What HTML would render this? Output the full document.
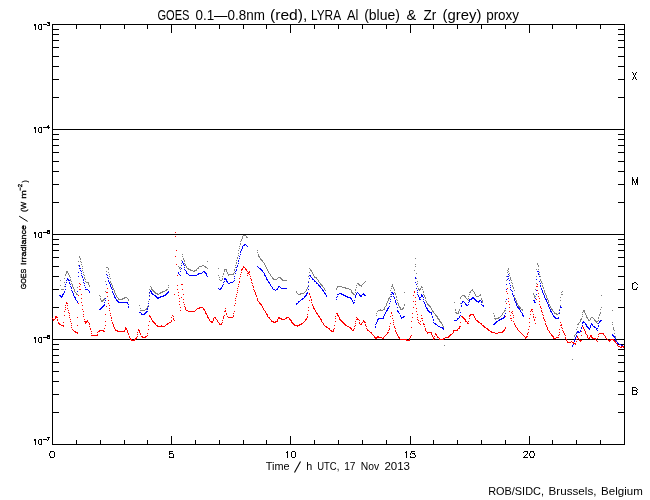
<!DOCTYPE html>
<html><head><meta charset="utf-8"><style>
html,body{margin:0;padding:0;background:#fff;width:650px;height:500px;overflow:hidden}
svg{display:block}
text{font-family:"Liberation Sans",sans-serif;fill:#000}
.t{filter:grayscale(1)}
</style></head><body>
<svg width="650" height="500" viewBox="0 0 650 500">
<rect width="650" height="500" fill="#fff"/>
<g shape-rendering="crispEdges" fill="#000">
<rect x="52" y="24" width="573" height="1"/>
<rect x="52" y="444" width="573" height="1"/>
<rect x="52" y="24" width="1" height="421"/>
<rect x="624" y="24" width="1" height="421"/>
<rect x="52" y="129" width="573" height="1"/>
<rect x="52" y="234" width="573" height="1"/>
<rect x="52" y="339" width="573" height="1"/>
<rect x="53" y="97" width="6" height="1"/>
<rect x="618" y="97" width="6" height="1"/>
<rect x="53" y="79" width="6" height="1"/>
<rect x="618" y="79" width="6" height="1"/>
<rect x="53" y="66" width="6" height="1"/>
<rect x="618" y="66" width="6" height="1"/>
<rect x="53" y="56" width="6" height="1"/>
<rect x="618" y="56" width="6" height="1"/>
<rect x="53" y="47" width="6" height="1"/>
<rect x="618" y="47" width="6" height="1"/>
<rect x="53" y="40" width="6" height="1"/>
<rect x="618" y="40" width="6" height="1"/>
<rect x="53" y="34" width="6" height="1"/>
<rect x="618" y="34" width="6" height="1"/>
<rect x="53" y="29" width="6" height="1"/>
<rect x="618" y="29" width="6" height="1"/>
<rect x="53" y="202" width="6" height="1"/>
<rect x="618" y="202" width="6" height="1"/>
<rect x="53" y="184" width="6" height="1"/>
<rect x="618" y="184" width="6" height="1"/>
<rect x="53" y="171" width="6" height="1"/>
<rect x="618" y="171" width="6" height="1"/>
<rect x="53" y="161" width="6" height="1"/>
<rect x="618" y="161" width="6" height="1"/>
<rect x="53" y="152" width="6" height="1"/>
<rect x="618" y="152" width="6" height="1"/>
<rect x="53" y="145" width="6" height="1"/>
<rect x="618" y="145" width="6" height="1"/>
<rect x="53" y="139" width="6" height="1"/>
<rect x="618" y="139" width="6" height="1"/>
<rect x="53" y="134" width="6" height="1"/>
<rect x="618" y="134" width="6" height="1"/>
<rect x="53" y="307" width="6" height="1"/>
<rect x="618" y="307" width="6" height="1"/>
<rect x="53" y="289" width="6" height="1"/>
<rect x="618" y="289" width="6" height="1"/>
<rect x="53" y="276" width="6" height="1"/>
<rect x="618" y="276" width="6" height="1"/>
<rect x="53" y="266" width="6" height="1"/>
<rect x="618" y="266" width="6" height="1"/>
<rect x="53" y="257" width="6" height="1"/>
<rect x="618" y="257" width="6" height="1"/>
<rect x="53" y="250" width="6" height="1"/>
<rect x="618" y="250" width="6" height="1"/>
<rect x="53" y="244" width="6" height="1"/>
<rect x="618" y="244" width="6" height="1"/>
<rect x="53" y="239" width="6" height="1"/>
<rect x="618" y="239" width="6" height="1"/>
<rect x="53" y="412" width="6" height="1"/>
<rect x="618" y="412" width="6" height="1"/>
<rect x="53" y="394" width="6" height="1"/>
<rect x="618" y="394" width="6" height="1"/>
<rect x="53" y="381" width="6" height="1"/>
<rect x="618" y="381" width="6" height="1"/>
<rect x="53" y="371" width="6" height="1"/>
<rect x="618" y="371" width="6" height="1"/>
<rect x="53" y="362" width="6" height="1"/>
<rect x="618" y="362" width="6" height="1"/>
<rect x="53" y="355" width="6" height="1"/>
<rect x="618" y="355" width="6" height="1"/>
<rect x="53" y="349" width="6" height="1"/>
<rect x="618" y="349" width="6" height="1"/>
<rect x="53" y="344" width="6" height="1"/>
<rect x="618" y="344" width="6" height="1"/>
<rect x="76" y="25" width="1" height="4"/>
<rect x="76" y="440" width="1" height="4"/>
<rect x="100" y="25" width="1" height="4"/>
<rect x="100" y="440" width="1" height="4"/>
<rect x="124" y="25" width="1" height="4"/>
<rect x="124" y="440" width="1" height="4"/>
<rect x="147" y="25" width="1" height="4"/>
<rect x="147" y="440" width="1" height="4"/>
<rect x="171" y="25" width="1" height="8"/>
<rect x="171" y="436" width="1" height="8"/>
<rect x="195" y="25" width="1" height="4"/>
<rect x="195" y="440" width="1" height="4"/>
<rect x="219" y="25" width="1" height="4"/>
<rect x="219" y="440" width="1" height="4"/>
<rect x="243" y="25" width="1" height="4"/>
<rect x="243" y="440" width="1" height="4"/>
<rect x="266" y="25" width="1" height="4"/>
<rect x="266" y="440" width="1" height="4"/>
<rect x="290" y="25" width="1" height="8"/>
<rect x="290" y="436" width="1" height="8"/>
<rect x="314" y="25" width="1" height="4"/>
<rect x="314" y="440" width="1" height="4"/>
<rect x="338" y="25" width="1" height="4"/>
<rect x="338" y="440" width="1" height="4"/>
<rect x="362" y="25" width="1" height="4"/>
<rect x="362" y="440" width="1" height="4"/>
<rect x="386" y="25" width="1" height="4"/>
<rect x="386" y="440" width="1" height="4"/>
<rect x="410" y="25" width="1" height="8"/>
<rect x="410" y="436" width="1" height="8"/>
<rect x="433" y="25" width="1" height="4"/>
<rect x="433" y="440" width="1" height="4"/>
<rect x="457" y="25" width="1" height="4"/>
<rect x="457" y="440" width="1" height="4"/>
<rect x="481" y="25" width="1" height="4"/>
<rect x="481" y="440" width="1" height="4"/>
<rect x="505" y="25" width="1" height="4"/>
<rect x="505" y="440" width="1" height="4"/>
<rect x="529" y="25" width="1" height="8"/>
<rect x="529" y="436" width="1" height="8"/>
<rect x="552" y="25" width="1" height="4"/>
<rect x="552" y="440" width="1" height="4"/>
<rect x="576" y="25" width="1" height="4"/>
<rect x="576" y="440" width="1" height="4"/>
<rect x="600" y="25" width="1" height="4"/>
<rect x="600" y="440" width="1" height="4"/>
<rect x="43" y="24" width="4" height="1"/>
<rect x="47" y="22" width="1" height="1"/>
<rect x="48" y="22" width="1" height="1"/>
<rect x="49" y="22" width="1" height="1"/>
<rect x="48" y="23" width="1" height="1"/>
<rect x="49" y="23" width="1" height="1"/>
<rect x="49" y="24" width="1" height="1"/>
<rect x="47" y="25" width="1" height="1"/>
<rect x="48" y="25" width="1" height="1"/>
<rect x="49" y="25" width="1" height="1"/>
<rect x="43" y="127" width="4" height="1"/>
<rect x="48" y="125" width="1" height="1"/>
<rect x="47" y="126" width="1" height="1"/>
<rect x="48" y="126" width="1" height="1"/>
<rect x="47" y="127" width="1" height="1"/>
<rect x="48" y="127" width="1" height="1"/>
<rect x="49" y="127" width="1" height="1"/>
<rect x="48" y="128" width="1" height="1"/>
<rect x="43" y="232" width="4" height="1"/>
<rect x="47" y="230" width="1" height="1"/>
<rect x="48" y="230" width="1" height="1"/>
<rect x="49" y="230" width="1" height="1"/>
<rect x="47" y="231" width="1" height="1"/>
<rect x="48" y="231" width="1" height="1"/>
<rect x="49" y="231" width="1" height="1"/>
<rect x="47" y="232" width="1" height="1"/>
<rect x="49" y="232" width="1" height="1"/>
<rect x="47" y="233" width="1" height="1"/>
<rect x="48" y="233" width="1" height="1"/>
<rect x="49" y="233" width="1" height="1"/>
<rect x="43" y="337" width="4" height="1"/>
<rect x="47" y="335" width="1" height="1"/>
<rect x="48" y="335" width="1" height="1"/>
<rect x="49" y="335" width="1" height="1"/>
<rect x="47" y="336" width="1" height="1"/>
<rect x="48" y="336" width="1" height="1"/>
<rect x="49" y="336" width="1" height="1"/>
<rect x="47" y="337" width="1" height="1"/>
<rect x="49" y="337" width="1" height="1"/>
<rect x="47" y="338" width="1" height="1"/>
<rect x="48" y="338" width="1" height="1"/>
<rect x="49" y="338" width="1" height="1"/>
<rect x="43" y="439" width="4" height="1"/>
<rect x="47" y="437" width="1" height="1"/>
<rect x="48" y="437" width="1" height="1"/>
<rect x="49" y="437" width="1" height="1"/>
<rect x="48" y="438" width="1" height="1"/>
<rect x="48" y="439" width="1" height="1"/>
<rect x="47" y="440" width="1" height="1"/>
<rect x="34" y="24" width="2" height="1"/>
<rect x="34" y="25" width="2" height="1"/>
<rect x="35" y="26" width="1" height="1"/>
<rect x="35" y="27" width="1" height="1"/>
<rect x="35" y="28" width="1" height="1"/>
<rect x="35" y="29" width="1" height="1"/>
<rect x="39" y="24" width="3" height="1"/>
<rect x="38" y="25" width="1" height="1"/>
<rect x="41" y="25" width="1" height="1"/>
<rect x="38" y="26" width="1" height="1"/>
<rect x="41" y="26" width="1" height="1"/>
<rect x="38" y="27" width="1" height="1"/>
<rect x="41" y="27" width="1" height="1"/>
<rect x="38" y="28" width="1" height="1"/>
<rect x="41" y="28" width="1" height="1"/>
<rect x="39" y="29" width="3" height="1"/>
<rect x="34" y="127" width="2" height="1"/>
<rect x="34" y="128" width="2" height="1"/>
<rect x="35" y="129" width="1" height="1"/>
<rect x="35" y="130" width="1" height="1"/>
<rect x="35" y="131" width="1" height="1"/>
<rect x="35" y="132" width="1" height="1"/>
<rect x="39" y="127" width="3" height="1"/>
<rect x="38" y="128" width="1" height="1"/>
<rect x="41" y="128" width="1" height="1"/>
<rect x="38" y="129" width="1" height="1"/>
<rect x="41" y="129" width="1" height="1"/>
<rect x="38" y="130" width="1" height="1"/>
<rect x="41" y="130" width="1" height="1"/>
<rect x="38" y="131" width="1" height="1"/>
<rect x="41" y="131" width="1" height="1"/>
<rect x="39" y="132" width="3" height="1"/>
<rect x="34" y="232" width="2" height="1"/>
<rect x="34" y="233" width="2" height="1"/>
<rect x="35" y="234" width="1" height="1"/>
<rect x="35" y="235" width="1" height="1"/>
<rect x="35" y="236" width="1" height="1"/>
<rect x="35" y="237" width="1" height="1"/>
<rect x="39" y="232" width="3" height="1"/>
<rect x="38" y="233" width="1" height="1"/>
<rect x="41" y="233" width="1" height="1"/>
<rect x="38" y="234" width="1" height="1"/>
<rect x="41" y="234" width="1" height="1"/>
<rect x="38" y="235" width="1" height="1"/>
<rect x="41" y="235" width="1" height="1"/>
<rect x="38" y="236" width="1" height="1"/>
<rect x="41" y="236" width="1" height="1"/>
<rect x="39" y="237" width="3" height="1"/>
<rect x="34" y="337" width="2" height="1"/>
<rect x="34" y="338" width="2" height="1"/>
<rect x="35" y="339" width="1" height="1"/>
<rect x="35" y="340" width="1" height="1"/>
<rect x="35" y="341" width="1" height="1"/>
<rect x="35" y="342" width="1" height="1"/>
<rect x="39" y="337" width="3" height="1"/>
<rect x="38" y="338" width="1" height="1"/>
<rect x="41" y="338" width="1" height="1"/>
<rect x="38" y="339" width="1" height="1"/>
<rect x="41" y="339" width="1" height="1"/>
<rect x="38" y="340" width="1" height="1"/>
<rect x="41" y="340" width="1" height="1"/>
<rect x="38" y="341" width="1" height="1"/>
<rect x="41" y="341" width="1" height="1"/>
<rect x="39" y="342" width="3" height="1"/>
<rect x="34" y="439" width="2" height="1"/>
<rect x="34" y="440" width="2" height="1"/>
<rect x="35" y="441" width="1" height="1"/>
<rect x="35" y="442" width="1" height="1"/>
<rect x="35" y="443" width="1" height="1"/>
<rect x="35" y="444" width="1" height="1"/>
<rect x="39" y="439" width="3" height="1"/>
<rect x="38" y="440" width="1" height="1"/>
<rect x="41" y="440" width="1" height="1"/>
<rect x="38" y="441" width="1" height="1"/>
<rect x="41" y="441" width="1" height="1"/>
<rect x="38" y="442" width="1" height="1"/>
<rect x="41" y="442" width="1" height="1"/>
<rect x="38" y="443" width="1" height="1"/>
<rect x="41" y="443" width="1" height="1"/>
<rect x="39" y="444" width="3" height="1"/>
<rect x="50" y="451" width="4" height="1"/>
<rect x="50" y="452" width="1" height="1"/>
<rect x="54" y="452" width="1" height="1"/>
<rect x="49" y="453" width="1" height="1"/>
<rect x="54" y="453" width="1" height="1"/>
<rect x="49" y="454" width="1" height="1"/>
<rect x="54" y="454" width="1" height="1"/>
<rect x="49" y="455" width="1" height="1"/>
<rect x="54" y="455" width="1" height="1"/>
<rect x="50" y="456" width="1" height="1"/>
<rect x="54" y="456" width="1" height="1"/>
<rect x="50" y="457" width="4" height="1"/>
<rect x="169" y="451" width="4" height="1"/>
<rect x="169" y="452" width="1" height="1"/>
<rect x="169" y="453" width="4" height="1"/>
<rect x="169" y="454" width="1" height="1"/>
<rect x="173" y="454" width="1" height="1"/>
<rect x="173" y="455" width="1" height="1"/>
<rect x="169" y="456" width="1" height="1"/>
<rect x="173" y="456" width="1" height="1"/>
<rect x="169" y="457" width="5" height="1"/>
<rect x="287" y="451" width="1" height="1"/>
<rect x="286" y="452" width="2" height="1"/>
<rect x="287" y="453" width="1" height="1"/>
<rect x="287" y="454" width="1" height="1"/>
<rect x="287" y="455" width="1" height="1"/>
<rect x="287" y="456" width="1" height="1"/>
<rect x="287" y="457" width="1" height="1"/>
<rect x="292" y="451" width="3" height="1"/>
<rect x="291" y="452" width="1" height="1"/>
<rect x="295" y="452" width="1" height="1"/>
<rect x="291" y="453" width="1" height="1"/>
<rect x="295" y="453" width="1" height="1"/>
<rect x="291" y="454" width="1" height="1"/>
<rect x="295" y="454" width="1" height="1"/>
<rect x="291" y="455" width="1" height="1"/>
<rect x="295" y="455" width="1" height="1"/>
<rect x="291" y="456" width="1" height="1"/>
<rect x="295" y="456" width="1" height="1"/>
<rect x="292" y="457" width="3" height="1"/>
<rect x="406" y="451" width="1" height="1"/>
<rect x="405" y="452" width="2" height="1"/>
<rect x="406" y="453" width="1" height="1"/>
<rect x="406" y="454" width="1" height="1"/>
<rect x="406" y="455" width="1" height="1"/>
<rect x="406" y="456" width="1" height="1"/>
<rect x="406" y="457" width="1" height="1"/>
<rect x="411" y="451" width="4" height="1"/>
<rect x="411" y="452" width="1" height="1"/>
<rect x="410" y="453" width="1" height="1"/>
<rect x="412" y="453" width="3" height="1"/>
<rect x="410" y="454" width="1" height="1"/>
<rect x="414" y="454" width="1" height="1"/>
<rect x="415" y="455" width="1" height="1"/>
<rect x="410" y="456" width="1" height="1"/>
<rect x="415" y="456" width="1" height="1"/>
<rect x="410" y="457" width="5" height="1"/>
<rect x="524" y="451" width="4" height="1"/>
<rect x="523" y="452" width="1" height="1"/>
<rect x="527" y="452" width="1" height="1"/>
<rect x="527" y="453" width="1" height="1"/>
<rect x="526" y="454" width="1" height="1"/>
<rect x="525" y="455" width="1" height="1"/>
<rect x="524" y="456" width="1" height="1"/>
<rect x="523" y="457" width="5" height="1"/>
<rect x="530" y="451" width="4" height="1"/>
<rect x="530" y="452" width="1" height="1"/>
<rect x="533" y="452" width="1" height="1"/>
<rect x="529" y="453" width="1" height="1"/>
<rect x="534" y="453" width="1" height="1"/>
<rect x="529" y="454" width="1" height="1"/>
<rect x="534" y="454" width="1" height="1"/>
<rect x="529" y="455" width="1" height="1"/>
<rect x="534" y="455" width="1" height="1"/>
<rect x="530" y="456" width="1" height="1"/>
<rect x="533" y="456" width="1" height="1"/>
<rect x="530" y="457" width="4" height="1"/>
<rect x="632" y="72" width="1" height="1"/>
<rect x="636" y="72" width="1" height="1"/>
<rect x="633" y="73" width="1" height="1"/>
<rect x="635" y="73" width="1" height="1"/>
<rect x="633" y="74" width="1" height="1"/>
<rect x="635" y="74" width="1" height="1"/>
<rect x="634" y="75" width="1" height="1"/>
<rect x="634" y="76" width="1" height="1"/>
<rect x="633" y="77" width="1" height="1"/>
<rect x="635" y="77" width="1" height="1"/>
<rect x="633" y="78" width="1" height="1"/>
<rect x="635" y="78" width="1" height="1"/>
<rect x="632" y="79" width="1" height="1"/>
<rect x="636" y="79" width="1" height="1"/>
<rect x="632" y="177" width="1" height="1"/>
<rect x="637" y="177" width="1" height="1"/>
<rect x="632" y="178" width="1" height="1"/>
<rect x="637" y="178" width="1" height="1"/>
<rect x="632" y="179" width="2" height="1"/>
<rect x="636" y="179" width="2" height="1"/>
<rect x="632" y="180" width="2" height="1"/>
<rect x="636" y="180" width="2" height="1"/>
<rect x="632" y="181" width="1" height="1"/>
<rect x="634" y="181" width="1" height="1"/>
<rect x="636" y="181" width="2" height="1"/>
<rect x="632" y="182" width="1" height="1"/>
<rect x="634" y="182" width="1" height="1"/>
<rect x="636" y="182" width="2" height="1"/>
<rect x="632" y="183" width="1" height="1"/>
<rect x="635" y="183" width="1" height="1"/>
<rect x="637" y="183" width="1" height="1"/>
<rect x="632" y="184" width="1" height="1"/>
<rect x="635" y="184" width="1" height="1"/>
<rect x="637" y="184" width="1" height="1"/>
<rect x="634" y="282" width="2" height="1"/>
<rect x="632" y="283" width="2" height="1"/>
<rect x="636" y="283" width="1" height="1"/>
<rect x="632" y="284" width="1" height="1"/>
<rect x="637" y="284" width="1" height="1"/>
<rect x="632" y="285" width="1" height="1"/>
<rect x="632" y="286" width="1" height="1"/>
<rect x="632" y="287" width="1" height="1"/>
<rect x="637" y="287" width="1" height="1"/>
<rect x="632" y="288" width="1" height="1"/>
<rect x="636" y="288" width="1" height="1"/>
<rect x="633" y="289" width="4" height="1"/>
<rect x="632" y="387" width="4" height="1"/>
<rect x="632" y="388" width="1" height="1"/>
<rect x="636" y="388" width="1" height="1"/>
<rect x="632" y="389" width="1" height="1"/>
<rect x="637" y="389" width="1" height="1"/>
<rect x="632" y="390" width="5" height="1"/>
<rect x="632" y="391" width="1" height="1"/>
<rect x="636" y="391" width="1" height="1"/>
<rect x="632" y="392" width="1" height="1"/>
<rect x="637" y="392" width="1" height="1"/>
<rect x="632" y="393" width="1" height="1"/>
<rect x="636" y="393" width="1" height="1"/>
<rect x="632" y="394" width="5" height="1"/>
</g>
<g shape-rendering="crispEdges">
<path fill="#808080" d="M243 235h3v1h-3zM242 236h1v1h-1zM246 236h1v1h-1zM242 237h1v1h-1zM246 237h2v1h-2zM242 238h1v1h-1zM241 239h1v1h-1zM241 240h1v1h-1zM240 241h1v1h-1zM240 243h1v1h-1zM240 244h1v1h-1zM239 246h1v1h-1zM239 248h1v1h-1zM238 250h1v1h-1zM257 250h1v1h-1zM257 252h1v1h-1zM238 253h1v1h-1zM182 254h1v1h-1zM258 254h1v1h-1zM238 255h1v1h-1zM258 255h1v1h-1zM79 256h1v1h-1zM182 256h1v1h-1zM258 256h2v1h-2zM79 257h1v1h-1zM237 257h1v1h-1zM259 257h1v1h-1zM80 258h1v1h-1zM183 258h1v1h-1zM237 258h1v1h-1zM260 258h1v1h-1zM415 258h1v1h-1zM80 259h1v1h-1zM183 259h1v1h-1zM260 259h2v1h-2zM181 260h1v1h-1zM184 260h1v1h-1zM236 260h1v1h-1zM261 260h2v1h-2zM78 261h1v1h-1zM80 261h1v1h-1zM184 261h1v1h-1zM207 261h1v1h-1zM262 261h1v1h-1zM81 262h1v1h-1zM236 262h1v1h-1zM263 262h1v1h-1zM181 263h1v1h-1zM184 263h1v1h-1zM236 263h1v1h-1zM264 263h1v1h-1zM537 263h1v1h-1zM81 264h1v1h-1zM185 264h1v1h-1zM264 264h1v1h-1zM415 264h1v1h-1zM537 264h1v1h-1zM78 265h1v1h-1zM185 265h1v1h-1zM202 265h2v1h-2zM235 265h1v1h-1zM265 265h1v1h-1zM538 265h1v1h-1zM82 266h1v1h-1zM178 266h1v1h-1zM186 266h1v1h-1zM199 266h3v1h-3zM204 266h2v1h-2zM265 266h1v1h-1zM415 266h1v1h-1zM538 266h1v1h-1zM106 267h2v1h-2zM179 267h2v1h-2zM186 267h1v1h-1zM198 267h1v1h-1zM205 267h2v1h-2zM235 267h1v1h-1zM266 267h1v1h-1zM82 268h1v1h-1zM108 268h1v1h-1zM179 268h1v1h-1zM187 268h2v1h-2zM197 268h2v1h-2zM207 268h1v1h-1zM218 268h1v1h-1zM266 268h1v1h-1zM309 268h1v1h-1zM508 268h1v1h-1zM108 269h1v1h-1zM180 269h1v1h-1zM188 269h3v1h-3zM196 269h1v1h-1zM224 269h3v1h-3zM234 269h1v1h-1zM267 269h1v1h-1zM310 269h1v1h-1zM508 269h1v1h-1zM536 269h1v1h-1zM538 269h1v1h-1zM82 270h1v1h-1zM190 270h3v1h-3zM194 270h3v1h-3zM224 270h1v1h-1zM226 270h1v1h-1zM234 270h1v1h-1zM267 270h1v1h-1zM310 270h2v1h-2zM414 270h1v1h-1zM507 270h1v1h-1zM66 271h2v1h-2zM106 271h1v1h-1zM193 271h2v1h-2zM224 271h1v1h-1zM226 271h1v1h-1zM268 271h1v1h-1zM311 271h1v1h-1zM508 271h1v1h-1zM66 272h2v1h-2zM78 272h1v1h-1zM83 272h1v1h-1zM108 272h1v1h-1zM227 272h1v1h-1zM234 272h1v1h-1zM268 272h1v1h-1zM309 272h1v1h-1zM312 272h1v1h-1zM507 272h1v1h-1zM539 272h1v1h-1zM66 273h1v1h-1zM68 273h1v1h-1zM223 273h1v1h-1zM227 273h1v1h-1zM233 273h1v1h-1zM269 273h1v1h-1zM312 273h1v1h-1zM416 273h1v1h-1zM509 273h1v1h-1zM65 274h1v1h-1zM68 274h1v1h-1zM83 274h1v1h-1zM109 274h1v1h-1zM223 274h1v1h-1zM228 274h6v1h-6zM270 274h1v1h-1zM313 274h1v1h-1zM539 274h1v1h-1zM65 275h1v1h-1zM69 275h1v1h-1zM84 275h1v1h-1zM218 275h1v1h-1zM228 275h1v1h-1zM270 275h1v1h-1zM313 275h1v1h-1zM509 275h1v1h-1zM69 276h1v1h-1zM109 276h1v1h-1zM222 276h1v1h-1zM271 276h1v1h-1zM308 276h1v1h-1zM314 276h1v1h-1zM506 276h1v1h-1zM536 276h1v1h-1zM540 276h1v1h-1zM70 277h1v1h-1zM84 277h1v1h-1zM219 277h1v1h-1zM272 277h1v1h-1zM278 277h3v1h-3zM314 277h3v1h-3zM510 277h1v1h-1zM64 278h1v1h-1zM84 278h1v1h-1zM110 278h1v1h-1zM222 278h1v1h-1zM272 278h2v1h-2zM277 278h1v1h-1zM280 278h2v1h-2zM316 278h1v1h-1zM416 278h1v1h-1zM510 278h1v1h-1zM70 279h1v1h-1zM85 279h1v1h-1zM219 279h1v1h-1zM222 279h1v1h-1zM273 279h4v1h-4zM281 279h2v1h-2zM317 279h1v1h-1zM510 279h1v1h-1zM540 279h1v1h-1zM60 280h1v1h-1zM70 280h1v1h-1zM220 280h2v1h-2zM282 280h5v1h-5zM318 280h1v1h-1zM506 280h1v1h-1zM511 280h1v1h-1zM540 280h1v1h-1zM71 281h1v1h-1zM85 281h1v1h-1zM105 281h1v1h-1zM110 281h1v1h-1zM308 281h1v1h-1zM318 281h1v1h-1zM365 281h1v1h-1zM417 281h1v1h-1zM541 281h1v1h-1zM64 282h1v1h-1zM86 282h3v1h-3zM110 282h1v1h-1zM319 282h1v1h-1zM364 282h1v1h-1zM511 282h1v1h-1zM541 282h1v1h-1zM71 283h1v1h-1zM88 283h1v1h-1zM111 283h1v1h-1zM320 283h1v1h-1zM357 283h2v1h-2zM363 283h1v1h-1zM417 283h1v1h-1zM512 283h1v1h-1zM536 283h1v1h-1zM542 283h1v1h-1zM72 284h1v1h-1zM88 284h1v1h-1zM111 284h1v1h-1zM320 284h2v1h-2zM358 284h2v1h-2zM362 284h1v1h-1zM392 284h1v1h-1zM506 284h1v1h-1zM60 285h1v1h-1zM72 285h1v1h-1zM89 285h1v1h-1zM112 285h1v1h-1zM168 285h1v1h-1zM308 285h1v1h-1zM321 285h2v1h-2zM356 285h1v1h-1zM359 285h3v1h-3zM392 285h1v1h-1zM512 285h1v1h-1zM542 285h1v1h-1zM64 286h1v1h-1zM72 286h1v1h-1zM89 286h1v1h-1zM112 286h1v1h-1zM150 286h1v1h-1zM322 286h1v1h-1zM337 286h5v1h-5zM361 286h1v1h-1zM391 286h2v1h-2zM417 286h1v1h-1zM421 286h1v1h-1zM512 286h1v1h-1zM542 286h1v1h-1zM73 287h1v1h-1zM77 287h1v1h-1zM112 287h1v1h-1zM151 287h1v1h-1zM168 287h1v1h-1zM307 287h1v1h-1zM323 287h1v1h-1zM337 287h1v1h-1zM342 287h4v1h-4zM356 287h1v1h-1zM393 287h1v1h-1zM421 287h2v1h-2zM513 287h1v1h-1zM543 287h1v1h-1zM73 288h1v1h-1zM113 288h1v1h-1zM151 288h1v1h-1zM307 288h1v1h-1zM324 288h1v1h-1zM336 288h1v1h-1zM345 288h4v1h-4zM391 288h1v1h-1zM393 288h1v1h-1zM418 288h1v1h-1zM420 288h1v1h-1zM513 288h1v1h-1zM543 288h1v1h-1zM61 289h3v1h-3zM74 289h1v1h-1zM113 289h1v1h-1zM149 289h1v1h-1zM151 289h2v1h-2zM166 289h2v1h-2zM306 289h1v1h-1zM324 289h1v1h-1zM336 289h1v1h-1zM349 289h2v1h-2zM355 289h1v1h-1zM394 289h1v1h-1zM418 289h3v1h-3zM422 289h1v1h-1zM472 289h1v1h-1zM535 289h1v1h-1zM74 290h1v1h-1zM114 290h1v1h-1zM152 290h2v1h-2zM165 290h2v1h-2zM306 290h1v1h-1zM325 290h1v1h-1zM351 290h1v1h-1zM355 290h1v1h-1zM390 290h1v1h-1zM394 290h1v1h-1zM419 290h1v1h-1zM471 290h2v1h-2zM514 290h1v1h-1zM544 290h1v1h-1zM74 291h1v1h-1zM105 291h1v1h-1zM114 291h1v1h-1zM153 291h2v1h-2zM162 291h3v1h-3zM296 291h1v1h-1zM305 291h1v1h-1zM351 291h1v1h-1zM423 291h1v1h-1zM470 291h1v1h-1zM473 291h1v1h-1zM544 291h1v1h-1zM562 291h1v1h-1zM75 292h1v1h-1zM114 292h1v1h-1zM154 292h2v1h-2zM160 292h3v1h-3zM296 292h1v1h-1zM304 292h1v1h-1zM351 292h2v1h-2zM355 292h1v1h-1zM394 292h1v1h-1zM404 292h1v1h-1zM423 292h1v1h-1zM469 292h2v1h-2zM474 292h1v1h-1zM544 292h1v1h-1zM561 292h1v1h-1zM76 293h1v1h-1zM115 293h1v1h-1zM149 293h1v1h-1zM155 293h3v1h-3zM159 293h2v1h-2zM297 293h1v1h-1zM300 293h4v1h-4zM352 293h2v1h-2zM395 293h1v1h-1zM474 293h1v1h-1zM533 293h1v1h-1zM545 293h1v1h-1zM76 294h2v1h-2zM115 294h1v1h-1zM157 294h2v1h-2zM298 294h3v1h-3zM353 294h2v1h-2zM390 294h1v1h-1zM395 294h1v1h-1zM423 294h1v1h-1zM469 294h1v1h-1zM475 294h1v1h-1zM480 294h1v1h-1zM533 294h1v1h-1zM545 294h1v1h-1zM561 294h2v1h-2zM99 295h1v1h-1zM116 295h1v1h-1zM424 295h1v1h-1zM462 295h3v1h-3zM475 295h1v1h-1zM479 295h2v1h-2zM514 295h1v1h-1zM534 295h1v1h-1zM546 295h1v1h-1zM601 295h1v1h-1zM100 296h1v1h-1zM116 296h1v1h-1zM149 296h1v1h-1zM390 296h1v1h-1zM396 296h1v1h-1zM424 296h1v1h-1zM461 296h1v1h-1zM464 296h2v1h-2zM468 296h1v1h-1zM476 296h3v1h-3zM534 296h2v1h-2zM546 296h1v1h-1zM117 297h1v1h-1zM124 297h3v1h-3zM389 297h1v1h-1zM396 297h1v1h-1zM425 297h1v1h-1zM460 297h1v1h-1zM465 297h1v1h-1zM514 297h1v1h-1zM534 297h1v1h-1zM546 297h1v1h-1zM560 297h1v1h-1zM100 298h1v1h-1zM104 298h1v1h-1zM118 298h1v1h-1zM122 298h3v1h-3zM127 298h1v1h-1zM388 298h2v1h-2zM425 298h1v1h-1zM460 298h1v1h-1zM466 298h1v1h-1zM468 298h1v1h-1zM481 298h1v1h-1zM515 298h1v1h-1zM547 298h1v1h-1zM100 299h1v1h-1zM103 299h2v1h-2zM118 299h5v1h-5zM128 299h1v1h-1zM388 299h1v1h-1zM396 299h1v1h-1zM467 299h1v1h-1zM481 299h1v1h-1zM515 299h1v1h-1zM547 299h1v1h-1zM101 300h3v1h-3zM128 300h1v1h-1zM388 300h1v1h-1zM397 300h1v1h-1zM425 300h1v1h-1zM468 300h1v1h-1zM482 300h1v1h-1zM516 300h1v1h-1zM548 300h1v1h-1zM560 300h1v1h-1zM101 301h2v1h-2zM148 301h1v1h-1zM387 301h1v1h-1zM426 301h1v1h-1zM482 301h1v1h-1zM505 301h1v1h-1zM516 301h1v1h-1zM548 301h1v1h-1zM387 302h1v1h-1zM397 302h1v1h-1zM426 302h1v1h-1zM454 302h1v1h-1zM482 302h1v1h-1zM516 302h1v1h-1zM548 302h1v1h-1zM386 303h1v1h-1zM398 303h1v1h-1zM427 303h1v1h-1zM460 303h1v1h-1zM517 303h1v1h-1zM386 304h1v1h-1zM398 304h1v1h-1zM404 304h1v1h-1zM427 304h2v1h-2zM517 304h1v1h-1zM549 304h1v1h-1zM139 305h1v1h-1zM148 305h1v1h-1zM386 305h1v1h-1zM398 305h1v1h-1zM404 305h1v1h-1zM428 305h2v1h-2zM518 305h1v1h-1zM549 305h1v1h-1zM560 305h1v1h-1zM147 306h1v1h-1zM385 306h1v1h-1zM399 306h1v1h-1zM429 306h2v1h-2zM518 306h2v1h-2zM550 306h1v1h-1zM147 307h1v1h-1zM384 307h1v1h-1zM399 307h2v1h-2zM403 307h1v1h-1zM430 307h1v1h-1zM519 307h2v1h-2zM550 307h1v1h-1zM601 307h1v1h-1zM140 308h1v1h-1zM146 308h2v1h-2zM384 308h1v1h-1zM400 308h1v1h-1zM402 308h2v1h-2zM431 308h1v1h-1zM520 308h1v1h-1zM551 308h1v1h-1zM145 309h2v1h-2zM380 309h1v1h-1zM383 309h2v1h-2zM400 309h3v1h-3zM431 309h1v1h-1zM455 309h1v1h-1zM459 309h1v1h-1zM521 309h2v1h-2zM551 309h2v1h-2zM559 309h1v1h-1zM600 309h1v1h-1zM140 310h5v1h-5zM378 310h5v1h-5zM432 310h1v1h-1zM455 310h1v1h-1zM459 310h1v1h-1zM504 310h2v1h-2zM522 310h1v1h-1zM552 310h1v1h-1zM583 310h2v1h-2zM612 310h1v1h-1zM377 311h1v1h-1zM432 311h2v1h-2zM458 311h1v1h-1zM504 311h1v1h-1zM553 311h1v1h-1zM583 311h2v1h-2zM433 312h1v1h-1zM455 312h2v1h-2zM458 312h1v1h-1zM503 312h1v1h-1zM554 312h1v1h-1zM559 312h1v1h-1zM582 312h1v1h-1zM584 312h1v1h-1zM600 312h1v1h-1zM376 313h1v1h-1zM434 313h1v1h-1zM456 313h3v1h-3zM493 313h1v1h-1zM502 313h1v1h-1zM554 313h3v1h-3zM558 313h1v1h-1zM585 313h1v1h-1zM600 313h1v1h-1zM435 314h1v1h-1zM502 314h1v1h-1zM556 314h2v1h-2zM582 314h1v1h-1zM585 314h1v1h-1zM599 314h1v1h-1zM376 315h1v1h-1zM435 315h2v1h-2zM494 315h1v1h-1zM501 315h1v1h-1zM586 315h1v1h-1zM599 315h1v1h-1zM436 316h2v1h-2zM494 316h1v1h-1zM500 316h1v1h-1zM582 316h1v1h-1zM586 316h1v1h-1zM437 317h1v1h-1zM498 317h2v1h-2zM586 317h2v1h-2zM591 317h2v1h-2zM598 317h1v1h-1zM437 318h2v1h-2zM494 318h5v1h-5zM581 318h1v1h-1zM587 318h1v1h-1zM590 318h1v1h-1zM593 318h1v1h-1zM598 318h1v1h-1zM438 319h2v1h-2zM495 319h1v1h-1zM580 319h2v1h-2zM588 319h1v1h-1zM590 319h1v1h-1zM594 319h1v1h-1zM439 320h1v1h-1zM580 320h1v1h-1zM588 320h2v1h-2zM594 320h2v1h-2zM598 320h1v1h-1zM439 321h2v1h-2zM580 321h1v1h-1zM595 321h3v1h-3zM440 322h2v1h-2zM579 322h1v1h-1zM596 322h1v1h-1zM612 322h1v1h-1zM441 323h1v1h-1zM578 323h1v1h-1zM597 323h1v1h-1zM442 324h1v1h-1zM577 324h2v1h-2zM612 324h1v1h-1zM442 325h1v1h-1zM443 326h1v1h-1zM443 327h1v1h-1zM577 327h1v1h-1zM613 327h1v1h-1zM443 328h1v1h-1zM613 328h1v1h-1zM576 329h1v1h-1zM613 329h1v1h-1zM614 330h1v1h-1zM576 332h1v1h-1zM576 333h1v1h-1zM614 333h1v1h-1zM575 334h1v1h-1zM574 335h1v1h-1zM574 336h1v1h-1zM615 336h1v1h-1zM615 337h1v1h-1zM615 338h1v1h-1zM616 340h1v1h-1zM616 341h1v1h-1zM617 342h1v1h-1zM444 345h1v1h-1zM572 359h1v1h-1z"/>
<path fill="#0000ff" d="M244 244h2v1h-2zM243 245h2v1h-2zM246 245h1v1h-1zM242 246h1v1h-1zM247 246h1v1h-1zM242 247h1v1h-1zM242 248h1v1h-1zM241 249h1v1h-1zM241 250h1v1h-1zM240 251h1v1h-1zM240 252h1v1h-1zM240 254h1v1h-1zM239 256h1v1h-1zM239 258h1v1h-1zM238 260h1v1h-1zM182 261h1v1h-1zM238 261h1v1h-1zM182 262h1v1h-1zM183 263h1v1h-1zM238 263h1v1h-1zM183 264h1v1h-1zM79 265h1v1h-1zM181 265h1v1h-1zM184 265h1v1h-1zM237 265h1v1h-1zM79 266h1v1h-1zM237 266h1v1h-1zM257 266h1v1h-1zM184 267h1v1h-1zM236 267h1v1h-1zM258 267h1v1h-1zM79 268h2v1h-2zM181 268h1v1h-1zM259 268h2v1h-2zM184 269h1v1h-1zM236 269h1v1h-1zM260 269h2v1h-2zM80 270h1v1h-1zM185 270h1v1h-1zM236 270h1v1h-1zM261 270h2v1h-2zM81 271h1v1h-1zM180 271h1v1h-1zM186 271h1v1h-1zM203 271h2v1h-2zM235 271h1v1h-1zM262 271h1v1h-1zM537 271h2v1h-2zM78 272h1v1h-1zM178 272h1v1h-1zM186 272h1v1h-1zM202 272h1v1h-1zM204 272h2v1h-2zM263 272h1v1h-1zM81 273h1v1h-1zM178 273h1v1h-1zM186 273h2v1h-2zM198 273h4v1h-4zM205 273h2v1h-2zM235 273h1v1h-1zM264 273h1v1h-1zM538 273h1v1h-1zM106 274h1v1h-1zM179 274h1v1h-1zM188 274h1v1h-1zM197 274h2v1h-2zM206 274h1v1h-1zM264 274h1v1h-1zM508 274h1v1h-1zM538 274h1v1h-1zM81 275h1v1h-1zM107 275h1v1h-1zM180 275h1v1h-1zM189 275h8v1h-8zM206 275h1v1h-1zM264 275h2v1h-2zM309 275h2v1h-2zM78 276h1v1h-1zM82 276h1v1h-1zM207 276h1v1h-1zM234 276h1v1h-1zM265 276h1v1h-1zM310 276h1v1h-1zM507 276h2v1h-2zM539 276h1v1h-1zM82 277h1v1h-1zM107 277h1v1h-1zM266 277h1v1h-1zM311 277h1v1h-1zM415 277h1v1h-1zM67 278h1v1h-1zM108 278h1v1h-1zM224 278h2v1h-2zM234 278h1v1h-1zM266 278h1v1h-1zM309 278h1v1h-1zM312 278h1v1h-1zM415 278h1v1h-1zM508 278h1v1h-1zM67 279h2v1h-2zM83 279h1v1h-1zM224 279h3v1h-3zM266 279h2v1h-2zM312 279h2v1h-2zM507 279h1v1h-1zM536 279h1v1h-1zM66 280h1v1h-1zM68 280h2v1h-2zM83 280h1v1h-1zM108 280h1v1h-1zM226 280h1v1h-1zM234 280h1v1h-1zM267 280h1v1h-1zM314 280h1v1h-1zM509 280h1v1h-1zM108 281h1v1h-1zM224 281h1v1h-1zM226 281h2v1h-2zM233 281h1v1h-1zM268 281h1v1h-1zM314 281h2v1h-2zM539 281h1v1h-1zM66 282h1v1h-1zM69 282h1v1h-1zM83 282h1v1h-1zM109 282h1v1h-1zM223 282h1v1h-1zM227 282h1v1h-1zM230 282h3v1h-3zM268 282h2v1h-2zM308 282h1v1h-1zM316 282h1v1h-1zM415 282h1v1h-1zM69 283h1v1h-1zM84 283h1v1h-1zM109 283h1v1h-1zM228 283h2v1h-2zM269 283h1v1h-1zM316 283h2v1h-2zM509 283h1v1h-1zM540 283h1v1h-1zM65 284h1v1h-1zM70 284h1v1h-1zM106 284h1v1h-1zM110 284h1v1h-1zM223 284h1v1h-1zM270 284h1v1h-1zM318 284h1v1h-1zM416 284h1v1h-1zM506 284h1v1h-1zM84 285h1v1h-1zM110 285h1v1h-1zM222 285h1v1h-1zM270 285h1v1h-1zM318 285h2v1h-2zM510 285h1v1h-1zM540 285h1v1h-1zM65 286h1v1h-1zM70 286h1v1h-1zM110 286h1v1h-1zM222 286h1v1h-1zM271 286h1v1h-1zM278 286h2v1h-2zM308 286h1v1h-1zM319 286h2v1h-2zM540 286h1v1h-1zM71 287h1v1h-1zM85 287h1v1h-1zM111 287h1v1h-1zM221 287h1v1h-1zM272 287h1v1h-1zM278 287h1v1h-1zM280 287h1v1h-1zM320 287h1v1h-1zM510 287h1v1h-1zM71 288h1v1h-1zM111 288h1v1h-1zM218 288h1v1h-1zM220 288h2v1h-2zM272 288h1v1h-1zM277 288h1v1h-1zM281 288h6v1h-6zM321 288h1v1h-1zM416 288h1v1h-1zM541 288h1v1h-1zM65 289h1v1h-1zM85 289h3v1h-3zM112 289h1v1h-1zM219 289h2v1h-2zM273 289h2v1h-2zM276 289h2v1h-2zM308 289h1v1h-1zM322 289h1v1h-1zM506 289h1v1h-1zM510 289h1v1h-1zM541 289h1v1h-1zM71 290h1v1h-1zM88 290h1v1h-1zM150 290h1v1h-1zM275 290h1v1h-1zM322 290h2v1h-2zM417 290h1v1h-1zM511 290h1v1h-1zM536 290h1v1h-1zM542 290h1v1h-1zM64 291h1v1h-1zM72 291h1v1h-1zM77 291h1v1h-1zM89 291h1v1h-1zM112 291h1v1h-1zM150 291h2v1h-2zM168 291h1v1h-1zM323 291h1v1h-1zM512 291h1v1h-1zM542 291h1v1h-1zM64 292h1v1h-1zM72 292h1v1h-1zM89 292h1v1h-1zM106 292h1v1h-1zM112 292h1v1h-1zM149 292h1v1h-1zM151 292h1v1h-1zM167 292h2v1h-2zM307 292h1v1h-1zM324 292h1v1h-1zM357 292h1v1h-1zM391 292h2v1h-2zM417 292h1v1h-1zM542 292h1v1h-1zM63 293h1v1h-1zM73 293h1v1h-1zM113 293h1v1h-1zM151 293h2v1h-2zM166 293h2v1h-2zM306 293h2v1h-2zM324 293h2v1h-2zM339 293h3v1h-3zM356 293h1v1h-1zM358 293h1v1h-1zM363 293h1v1h-1zM392 293h2v1h-2zM512 293h1v1h-1zM543 293h1v1h-1zM62 294h2v1h-2zM73 294h1v1h-1zM113 294h1v1h-1zM152 294h2v1h-2zM165 294h2v1h-2zM306 294h1v1h-1zM325 294h1v1h-1zM337 294h2v1h-2zM341 294h3v1h-3zM356 294h1v1h-1zM359 294h1v1h-1zM362 294h3v1h-3zM391 294h1v1h-1zM393 294h1v1h-1zM417 294h1v1h-1zM421 294h1v1h-1zM512 294h1v1h-1zM536 294h1v1h-1zM543 294h1v1h-1zM59 295h2v1h-2zM62 295h1v1h-1zM73 295h1v1h-1zM114 295h1v1h-1zM149 295h1v1h-1zM154 295h2v1h-2zM163 295h3v1h-3zM305 295h2v1h-2zM326 295h1v1h-1zM343 295h3v1h-3zM355 295h1v1h-1zM359 295h3v1h-3zM364 295h2v1h-2zM418 295h1v1h-1zM421 295h2v1h-2zM513 295h1v1h-1zM544 295h1v1h-1zM60 296h3v1h-3zM74 296h1v1h-1zM114 296h1v1h-1zM155 296h2v1h-2zM160 296h4v1h-4zM304 296h2v1h-2zM326 296h1v1h-1zM337 296h1v1h-1zM345 296h3v1h-3zM355 296h1v1h-1zM360 296h2v1h-2zM391 296h1v1h-1zM393 296h1v1h-1zM418 296h1v1h-1zM421 296h2v1h-2zM513 296h1v1h-1zM544 296h1v1h-1zM61 297h1v1h-1zM74 297h2v1h-2zM114 297h2v1h-2zM156 297h5v1h-5zM304 297h1v1h-1zM336 297h1v1h-1zM347 297h4v1h-4zM355 297h1v1h-1zM394 297h1v1h-1zM419 297h2v1h-2zM423 297h1v1h-1zM472 297h2v1h-2zM544 297h1v1h-1zM75 298h1v1h-1zM105 298h1v1h-1zM115 298h1v1h-1zM157 298h2v1h-2zM302 298h2v1h-2zM350 298h2v1h-2zM394 298h1v1h-1zM419 298h1v1h-1zM471 298h4v1h-4zM514 298h1v1h-1zM535 298h1v1h-1zM545 298h1v1h-1zM75 299h1v1h-1zM116 299h1v1h-1zM149 299h1v1h-1zM301 299h2v1h-2zM336 299h1v1h-1zM351 299h1v1h-1zM390 299h1v1h-1zM419 299h2v1h-2zM423 299h1v1h-1zM469 299h3v1h-3zM474 299h2v1h-2zM506 299h1v1h-1zM514 299h1v1h-1zM545 299h2v1h-2zM76 300h1v1h-1zM105 300h1v1h-1zM116 300h2v1h-2zM300 300h1v1h-1zM352 300h1v1h-1zM354 300h1v1h-1zM395 300h1v1h-1zM469 300h1v1h-1zM475 300h2v1h-2zM479 300h2v1h-2zM514 300h1v1h-1zM533 300h2v1h-2zM546 300h1v1h-1zM77 301h1v1h-1zM117 301h2v1h-2zM298 301h2v1h-2zM352 301h1v1h-1zM390 301h1v1h-1zM395 301h1v1h-1zM423 301h1v1h-1zM462 301h2v1h-2zM469 301h1v1h-1zM476 301h4v1h-4zM481 301h1v1h-1zM515 301h1v1h-1zM534 301h1v1h-1zM546 301h1v1h-1zM77 302h1v1h-1zM104 302h1v1h-1zM118 302h10v1h-10zM298 302h1v1h-1zM353 302h2v1h-2zM395 302h1v1h-1zM424 302h1v1h-1zM462 302h1v1h-1zM464 302h1v1h-1zM468 302h1v1h-1zM478 302h1v1h-1zM481 302h1v1h-1zM515 302h1v1h-1zM534 302h2v1h-2zM547 302h1v1h-1zM127 303h1v1h-1zM148 303h1v1h-1zM296 303h2v1h-2zM353 303h1v1h-1zM389 303h1v1h-1zM396 303h1v1h-1zM424 303h1v1h-1zM461 303h1v1h-1zM465 303h1v1h-1zM516 303h1v1h-1zM547 303h1v1h-1zM104 304h1v1h-1zM128 304h1v1h-1zM296 304h1v1h-1zM396 304h1v1h-1zM425 304h1v1h-1zM465 304h2v1h-2zM468 304h1v1h-1zM481 304h1v1h-1zM516 304h1v1h-1zM548 304h1v1h-1zM103 305h2v1h-2zM425 305h1v1h-1zM461 305h1v1h-1zM466 305h2v1h-2zM482 305h2v1h-2zM516 305h1v1h-1zM548 305h1v1h-1zM102 306h2v1h-2zM128 306h1v1h-1zM148 306h1v1h-1zM389 306h1v1h-1zM425 306h1v1h-1zM461 306h1v1h-1zM483 306h1v1h-1zM517 306h1v1h-1zM548 306h1v1h-1zM560 306h1v1h-1zM101 307h2v1h-2zM128 307h1v1h-1zM388 307h1v1h-1zM397 307h1v1h-1zM426 307h1v1h-1zM517 307h2v1h-2zM549 307h1v1h-1zM560 307h2v1h-2zM100 308h2v1h-2zM147 308h1v1h-1zM387 308h2v1h-2zM426 308h2v1h-2zM505 308h1v1h-1zM518 308h2v1h-2zM549 308h1v1h-1zM99 309h2v1h-2zM147 309h1v1h-1zM387 309h1v1h-1zM427 309h1v1h-1zM519 309h1v1h-1zM550 309h1v1h-1zM386 310h2v1h-2zM397 310h1v1h-1zM427 310h2v1h-2zM520 310h1v1h-1zM550 310h1v1h-1zM559 310h1v1h-1zM146 311h2v1h-2zM386 311h1v1h-1zM397 311h2v1h-2zM428 311h2v1h-2zM520 311h1v1h-1zM550 311h2v1h-2zM139 312h2v1h-2zM145 312h2v1h-2zM385 312h1v1h-1zM398 312h1v1h-1zM429 312h3v1h-3zM460 312h1v1h-1zM521 312h1v1h-1zM551 312h1v1h-1zM141 313h1v1h-1zM144 313h2v1h-2zM385 313h1v1h-1zM399 313h1v1h-1zM431 313h1v1h-1zM505 313h1v1h-1zM522 313h1v1h-1zM552 313h1v1h-1zM559 313h1v1h-1zM141 314h4v1h-4zM384 314h1v1h-1zM431 314h1v1h-1zM522 314h1v1h-1zM552 314h1v1h-1zM384 315h1v1h-1zM400 315h1v1h-1zM460 315h1v1h-1zM504 315h1v1h-1zM522 315h2v1h-2zM553 315h1v1h-1zM383 316h1v1h-1zM400 316h1v1h-1zM403 316h2v1h-2zM432 316h1v1h-1zM459 316h1v1h-1zM504 316h1v1h-1zM523 316h1v1h-1zM553 316h2v1h-2zM383 317h1v1h-1zM401 317h3v1h-3zM432 317h1v1h-1zM459 317h1v1h-1zM503 317h2v1h-2zM554 317h2v1h-2zM558 317h1v1h-1zM378 318h6v1h-6zM401 318h1v1h-1zM457 318h2v1h-2zM501 318h3v1h-3zM555 318h4v1h-4zM377 319h2v1h-2zM433 319h1v1h-1zM457 319h1v1h-1zM499 319h3v1h-3zM377 320h1v1h-1zM433 320h1v1h-1zM454 320h3v1h-3zM498 320h2v1h-2zM600 320h2v1h-2zM377 321h1v1h-1zM496 321h2v1h-2zM583 321h1v1h-1zM599 321h2v1h-2zM376 322h1v1h-1zM433 322h1v1h-1zM495 322h2v1h-2zM582 322h3v1h-3zM599 322h1v1h-1zM376 323h1v1h-1zM434 323h2v1h-2zM494 323h2v1h-2zM582 323h1v1h-1zM585 323h1v1h-1zM591 323h1v1h-1zM598 323h1v1h-1zM375 324h1v1h-1zM435 324h2v1h-2zM493 324h2v1h-2zM585 324h2v1h-2zM591 324h2v1h-2zM437 325h1v1h-1zM582 325h1v1h-1zM586 325h1v1h-1zM590 325h1v1h-1zM592 325h1v1h-1zM598 325h1v1h-1zM375 326h1v1h-1zM438 326h2v1h-2zM586 326h2v1h-2zM590 326h1v1h-1zM593 326h2v1h-2zM598 326h1v1h-1zM375 327h1v1h-1zM440 327h3v1h-3zM581 327h1v1h-1zM587 327h2v1h-2zM590 327h1v1h-1zM594 327h2v1h-2zM442 328h2v1h-2zM581 328h1v1h-1zM588 328h2v1h-2zM596 328h2v1h-2zM443 329h1v1h-1zM589 329h1v1h-1zM596 329h1v1h-1zM580 330h1v1h-1zM597 330h1v1h-1zM577 331h2v1h-2zM580 331h1v1h-1zM577 332h3v1h-3zM576 333h1v1h-1zM612 334h1v1h-1zM576 335h1v1h-1zM612 335h2v1h-2zM576 336h1v1h-1zM613 336h2v1h-2zM575 337h1v1h-1zM614 337h1v1h-1zM575 338h1v1h-1zM615 338h1v1h-1zM574 339h1v1h-1zM615 339h1v1h-1zM574 340h1v1h-1zM615 340h1v1h-1zM574 341h1v1h-1zM616 341h1v1h-1zM573 342h1v1h-1zM617 342h1v1h-1zM617 343h2v1h-2zM573 344h1v1h-1zM619 344h2v1h-2zM572 345h1v1h-1zM621 345h2v1h-2zM572 346h1v1h-1zM622 346h2v1h-2z"/>
<path fill="#ff0000" d="M175 232h1v1h-1zM175 236h1v1h-1zM176 250h1v1h-1zM175 256h1v1h-1zM176 264h1v1h-1zM243 266h1v1h-1zM243 267h2v1h-2zM242 268h1v1h-1zM245 268h1v1h-1zM241 269h2v1h-2zM245 269h2v1h-2zM241 270h1v1h-1zM246 270h1v1h-1zM247 271h1v1h-1zM249 271h1v1h-1zM241 272h1v1h-1zM248 272h2v1h-2zM247 273h2v1h-2zM240 274h1v1h-1zM249 274h1v1h-1zM177 275h1v1h-1zM247 275h1v1h-1zM240 276h1v1h-1zM250 276h1v1h-1zM239 278h1v1h-1zM250 278h1v1h-1zM251 279h1v1h-1zM251 280h1v1h-1zM239 281h1v1h-1zM239 282h1v1h-1zM251 282h1v1h-1zM79 283h1v1h-1zM252 283h1v1h-1zM80 284h1v1h-1zM181 284h2v1h-2zM238 284h1v1h-1zM537 284h1v1h-1zM177 285h1v1h-1zM252 285h1v1h-1zM79 286h1v1h-1zM238 286h1v1h-1zM253 286h1v1h-1zM536 286h2v1h-2zM253 287h1v1h-1zM107 288h1v1h-1zM237 288h1v1h-1zM507 288h1v1h-1zM79 289h2v1h-2zM177 289h1v1h-1zM182 289h1v1h-1zM253 289h1v1h-1zM237 290h1v1h-1zM254 290h1v1h-1zM537 290h1v1h-1zM254 291h1v1h-1zM414 291h1v1h-1zM506 291h1v1h-1zM106 292h2v1h-2zM178 292h1v1h-1zM237 292h1v1h-1zM255 292h1v1h-1zM414 292h1v1h-1zM255 293h1v1h-1zM309 293h1v1h-1zM507 293h1v1h-1zM538 293h1v1h-1zM81 294h1v1h-1zM174 294h1v1h-1zM183 294h1v1h-1zM236 294h1v1h-1zM255 294h1v1h-1zM309 294h1v1h-1zM78 295h1v1h-1zM178 295h1v1h-1zM256 295h1v1h-1zM413 295h1v1h-1zM107 296h1v1h-1zM236 296h1v1h-1zM256 296h1v1h-1zM310 296h1v1h-1zM538 296h1v1h-1zM181 297h1v1h-1zM310 297h1v1h-1zM415 297h1v1h-1zM81 298h1v1h-1zM179 298h1v1h-1zM235 298h1v1h-1zM257 298h1v1h-1zM508 298h1v1h-1zM539 298h1v1h-1zM183 299h1v1h-1zM257 299h1v1h-1zM311 299h1v1h-1zM536 299h1v1h-1zM108 300h1v1h-1zM235 300h1v1h-1zM257 300h1v1h-1zM309 300h1v1h-1zM311 300h1v1h-1zM179 301h1v1h-1zM258 301h1v1h-1zM413 301h1v1h-1zM415 301h1v1h-1zM508 301h1v1h-1zM539 301h1v1h-1zM66 302h1v1h-1zM81 302h1v1h-1zM183 302h1v1h-1zM259 302h1v1h-1zM311 302h1v1h-1zM66 303h2v1h-2zM78 303h1v1h-1zM108 303h1v1h-1zM235 303h1v1h-1zM259 303h2v1h-2zM506 303h1v1h-1zM179 304h1v1h-1zM184 304h1v1h-1zM260 304h2v1h-2zM312 304h1v1h-1zM415 304h1v1h-1zM509 304h1v1h-1zM539 304h1v1h-1zM65 305h1v1h-1zM67 305h1v1h-1zM82 305h1v1h-1zM109 305h1v1h-1zM234 305h1v1h-1zM261 305h1v1h-1zM312 305h1v1h-1zM106 306h1v1h-1zM184 306h1v1h-1zM262 306h1v1h-1zM313 306h1v1h-1zM540 306h1v1h-1zM65 307h1v1h-1zM180 307h1v1h-1zM185 307h1v1h-1zM199 307h4v1h-4zM262 307h1v1h-1zM308 307h1v1h-1zM313 307h1v1h-1zM413 307h1v1h-1zM509 307h1v1h-1zM540 307h1v1h-1zM67 308h1v1h-1zM109 308h1v1h-1zM185 308h1v1h-1zM197 308h3v1h-3zM203 308h1v1h-1zM225 308h1v1h-1zM263 308h1v1h-1zM313 308h2v1h-2zM416 308h1v1h-1zM541 308h1v1h-1zM65 309h1v1h-1zM82 309h1v1h-1zM185 309h1v1h-1zM196 309h1v1h-1zM203 309h2v1h-2zM263 309h1v1h-1zM314 309h1v1h-1zM531 309h2v1h-2zM68 310h1v1h-1zM109 310h1v1h-1zM180 310h1v1h-1zM186 310h2v1h-2zM195 310h1v1h-1zM204 310h1v1h-1zM225 310h1v1h-1zM264 310h1v1h-1zM308 310h1v1h-1zM315 310h1v1h-1zM531 310h1v1h-1zM541 310h1v1h-1zM64 311h1v1h-1zM83 311h1v1h-1zM188 311h7v1h-7zM205 311h1v1h-1zM224 311h2v1h-2zM234 311h1v1h-1zM265 311h1v1h-1zM315 311h1v1h-1zM416 311h1v1h-1zM509 311h1v1h-1zM512 311h1v1h-1zM530 311h1v1h-1zM532 311h1v1h-1zM541 311h1v1h-1zM68 312h1v1h-1zM205 312h1v1h-1zM265 312h1v1h-1zM316 312h1v1h-1zM391 312h1v1h-1zM511 312h1v1h-1zM542 312h1v1h-1zM69 313h1v1h-1zM110 313h1v1h-1zM205 313h2v1h-2zM226 313h1v1h-1zM233 313h1v1h-1zM266 313h1v1h-1zM316 313h2v1h-2zM336 313h2v1h-2zM391 313h1v1h-1zM412 313h1v1h-1zM512 313h1v1h-1zM83 314h1v1h-1zM105 314h1v1h-1zM206 314h1v1h-1zM226 314h1v1h-1zM266 314h2v1h-2zM307 314h1v1h-1zM317 314h1v1h-1zM337 314h1v1h-1zM417 314h1v1h-1zM470 314h4v1h-4zM530 314h1v1h-1zM533 314h1v1h-1zM542 314h1v1h-1zM64 315h1v1h-1zM69 315h1v1h-1zM110 315h1v1h-1zM149 315h1v1h-1zM172 315h1v1h-1zM207 315h1v1h-1zM224 315h1v1h-1zM233 315h1v1h-1zM267 315h1v1h-1zM318 315h1v1h-1zM337 315h2v1h-2zM392 315h1v1h-1zM421 315h1v1h-1zM469 315h2v1h-2zM473 315h1v1h-1zM510 315h1v1h-1zM513 315h1v1h-1zM543 315h1v1h-1zM55 316h2v1h-2zM83 316h1v1h-1zM149 316h2v1h-2zM173 316h1v1h-1zM207 316h1v1h-1zM223 316h1v1h-1zM227 316h1v1h-1zM233 316h1v1h-1zM267 316h1v1h-1zM307 316h1v1h-1zM318 316h2v1h-2zM335 316h1v1h-1zM338 316h1v1h-1zM390 316h1v1h-1zM461 316h2v1h-2zM469 316h1v1h-1zM474 316h1v1h-1zM505 316h1v1h-1zM533 316h1v1h-1zM55 317h3v1h-3zM69 317h1v1h-1zM77 317h1v1h-1zM111 317h1v1h-1zM150 317h1v1h-1zM171 317h1v1h-1zM207 317h2v1h-2zM214 317h2v1h-2zM223 317h1v1h-1zM228 317h5v1h-5zM268 317h2v1h-2zM278 317h2v1h-2zM286 317h3v1h-3zM307 317h1v1h-1zM319 317h1v1h-1zM339 317h1v1h-1zM356 317h1v1h-1zM412 317h1v1h-1zM417 317h1v1h-1zM462 317h2v1h-2zM474 317h1v1h-1zM513 317h1v1h-1zM533 317h1v1h-1zM535 317h1v1h-1zM543 317h1v1h-1zM52 318h1v1h-1zM55 318h1v1h-1zM111 318h1v1h-1zM151 318h1v1h-1zM173 318h1v1h-1zM208 318h1v1h-1zM213 318h1v1h-1zM215 318h1v1h-1zM223 318h1v1h-1zM269 318h1v1h-1zM278 318h4v1h-4zM285 318h2v1h-2zM289 318h1v1h-1zM306 318h1v1h-1zM320 318h1v1h-1zM335 318h1v1h-1zM339 318h1v1h-1zM357 318h1v1h-1zM392 318h1v1h-1zM421 318h2v1h-2zM463 318h2v1h-2zM469 318h1v1h-1zM475 318h1v1h-1zM510 318h2v1h-2zM529 318h1v1h-1zM543 318h1v1h-1zM53 319h2v1h-2zM57 319h1v1h-1zM70 319h1v1h-1zM84 319h1v1h-1zM151 319h1v1h-1zM173 319h1v1h-1zM209 319h1v1h-1zM213 319h1v1h-1zM216 319h1v1h-1zM270 319h1v1h-1zM277 319h1v1h-1zM281 319h4v1h-4zM289 319h2v1h-2zM305 319h2v1h-2zM320 319h2v1h-2zM339 319h2v1h-2zM356 319h3v1h-3zM417 319h1v1h-1zM464 319h2v1h-2zM475 319h1v1h-1zM534 319h1v1h-1zM544 319h1v1h-1zM53 320h1v1h-1zM57 320h1v1h-1zM87 320h1v1h-1zM111 320h1v1h-1zM152 320h1v1h-1zM171 320h1v1h-1zM174 320h1v1h-1zM209 320h1v1h-1zM213 320h1v1h-1zM217 320h1v1h-1zM222 320h1v1h-1zM271 320h1v1h-1zM277 320h1v1h-1zM290 320h2v1h-2zM305 320h1v1h-1zM321 320h1v1h-1zM340 320h2v1h-2zM359 320h1v1h-1zM363 320h1v1h-1zM393 320h1v1h-1zM418 320h1v1h-1zM422 320h1v1h-1zM465 320h1v1h-1zM476 320h2v1h-2zM511 320h1v1h-1zM534 320h1v1h-1zM544 320h1v1h-1zM70 321h1v1h-1zM84 321h4v1h-4zM105 321h1v1h-1zM149 321h1v1h-1zM152 321h2v1h-2zM171 321h1v1h-1zM210 321h3v1h-3zM217 321h1v1h-1zM271 321h3v1h-3zM275 321h3v1h-3zM291 321h1v1h-1zM304 321h1v1h-1zM321 321h1v1h-1zM335 321h1v1h-1zM341 321h2v1h-2zM355 321h1v1h-1zM363 321h2v1h-2zM411 321h1v1h-1zM420 321h1v1h-1zM465 321h2v1h-2zM468 321h1v1h-1zM477 321h2v1h-2zM513 321h1v1h-1zM545 321h1v1h-1zM58 322h1v1h-1zM63 322h1v1h-1zM85 322h2v1h-2zM88 322h1v1h-1zM112 322h1v1h-1zM153 322h2v1h-2zM169 322h2v1h-2zM211 322h2v1h-2zM218 322h1v1h-1zM222 322h1v1h-1zM273 322h3v1h-3zM291 322h2v1h-2zM303 322h1v1h-1zM322 322h1v1h-1zM342 322h2v1h-2zM359 322h1v1h-1zM362 322h1v1h-1zM364 322h2v1h-2zM393 322h1v1h-1zM418 322h1v1h-1zM460 322h1v1h-1zM467 322h1v1h-1zM478 322h2v1h-2zM529 322h1v1h-1zM560 322h1v1h-1zM58 323h2v1h-2zM71 323h1v1h-1zM85 323h1v1h-1zM89 323h1v1h-1zM112 323h1v1h-1zM154 323h2v1h-2zM167 323h2v1h-2zM219 323h1v1h-1zM221 323h1v1h-1zM292 323h2v1h-2zM301 323h2v1h-2zM323 323h1v1h-1zM343 323h2v1h-2zM355 323h1v1h-1zM359 323h1v1h-1zM361 323h1v1h-1zM390 323h1v1h-1zM419 323h1v1h-1zM423 323h1v1h-1zM467 323h2v1h-2zM480 323h2v1h-2zM514 323h1v1h-1zM535 323h1v1h-1zM545 323h1v1h-1zM59 324h2v1h-2zM89 324h1v1h-1zM113 324h1v1h-1zM155 324h1v1h-1zM166 324h2v1h-2zM219 324h3v1h-3zM293 324h2v1h-2zM299 324h3v1h-3zM323 324h1v1h-1zM344 324h2v1h-2zM360 324h2v1h-2zM365 324h1v1h-1zM393 324h1v1h-1zM420 324h1v1h-1zM423 324h2v1h-2zM481 324h1v1h-1zM514 324h1v1h-1zM545 324h1v1h-1zM561 324h1v1h-1zM61 325h3v1h-3zM71 325h1v1h-1zM77 325h1v1h-1zM105 325h1v1h-1zM113 325h1v1h-1zM148 325h1v1h-1zM156 325h2v1h-2zM161 325h1v1h-1zM165 325h1v1h-1zM294 325h6v1h-6zM324 325h1v1h-1zM334 325h1v1h-1zM345 325h2v1h-2zM355 325h1v1h-1zM365 325h1v1h-1zM482 325h2v1h-2zM515 325h1v1h-1zM546 325h1v1h-1zM560 325h2v1h-2zM63 326h1v1h-1zM89 326h1v1h-1zM113 326h1v1h-1zM157 326h8v1h-8zM297 326h1v1h-1zM325 326h2v1h-2zM347 326h2v1h-2zM354 326h1v1h-1zM366 326h1v1h-1zM389 326h1v1h-1zM394 326h1v1h-1zM424 326h1v1h-1zM459 326h2v1h-2zM483 326h2v1h-2zM515 326h1v1h-1zM529 326h1v1h-1zM546 326h1v1h-1zM582 326h1v1h-1zM71 327h1v1h-1zM114 327h1v1h-1zM125 327h1v1h-1zM326 327h2v1h-2zM349 327h2v1h-2zM394 327h1v1h-1zM411 327h1v1h-1zM459 327h1v1h-1zM484 327h2v1h-2zM505 327h1v1h-1zM516 327h1v1h-1zM547 327h1v1h-1zM561 327h1v1h-1zM583 327h1v1h-1zM90 328h1v1h-1zM104 328h1v1h-1zM114 328h1v1h-1zM125 328h2v1h-2zM328 328h2v1h-2zM334 328h1v1h-1zM350 328h2v1h-2zM354 328h1v1h-1zM366 328h1v1h-1zM389 328h1v1h-1zM395 328h1v1h-1zM425 328h1v1h-1zM458 328h2v1h-2zM486 328h2v1h-2zM505 328h1v1h-1zM517 328h1v1h-1zM547 328h1v1h-1zM562 328h1v1h-1zM583 328h1v1h-1zM72 329h1v1h-1zM90 329h1v1h-1zM115 329h1v1h-1zM125 329h2v1h-2zM138 329h1v1h-1zM148 329h1v1h-1zM329 329h1v1h-1zM333 329h1v1h-1zM351 329h1v1h-1zM353 329h1v1h-1zM367 329h1v1h-1zM389 329h1v1h-1zM425 329h1v1h-1zM457 329h1v1h-1zM487 329h2v1h-2zM504 329h1v1h-1zM517 329h1v1h-1zM528 329h1v1h-1zM547 329h1v1h-1zM559 329h1v1h-1zM584 329h1v1h-1zM73 330h1v1h-1zM99 330h5v1h-5zM115 330h3v1h-3zM124 330h1v1h-1zM127 330h1v1h-1zM138 330h2v1h-2zM330 330h2v1h-2zM333 330h1v1h-1zM352 330h2v1h-2zM367 330h2v1h-2zM388 330h1v1h-1zM395 330h1v1h-1zM425 330h1v1h-1zM453 330h5v1h-5zM488 330h2v1h-2zM503 330h2v1h-2zM518 330h1v1h-1zM548 330h1v1h-1zM562 330h1v1h-1zM584 330h1v1h-1zM74 331h2v1h-2zM91 331h1v1h-1zM98 331h2v1h-2zM103 331h2v1h-2zM117 331h8v1h-8zM127 331h1v1h-1zM139 331h1v1h-1zM331 331h3v1h-3zM369 331h1v1h-1zM395 331h1v1h-1zM426 331h1v1h-1zM453 331h1v1h-1zM490 331h2v1h-2zM502 331h2v1h-2zM519 331h1v1h-1zM549 331h1v1h-1zM563 331h1v1h-1zM581 331h1v1h-1zM585 331h1v1h-1zM75 332h3v1h-3zM97 332h1v1h-1zM127 332h1v1h-1zM137 332h1v1h-1zM139 332h1v1h-1zM370 332h2v1h-2zM387 332h2v1h-2zM396 332h1v1h-1zM427 332h5v1h-5zM453 332h1v1h-1zM491 332h4v1h-4zM498 332h5v1h-5zM520 332h1v1h-1zM528 332h1v1h-1zM549 332h1v1h-1zM559 332h1v1h-1zM563 332h1v1h-1zM585 332h1v1h-1zM77 333h1v1h-1zM91 333h1v1h-1zM128 333h1v1h-1zM140 333h1v1h-1zM147 333h1v1h-1zM371 333h1v1h-1zM387 333h1v1h-1zM396 333h1v1h-1zM427 333h1v1h-1zM431 333h1v1h-1zM435 333h1v1h-1zM452 333h1v1h-1zM495 333h3v1h-3zM521 333h1v1h-1zM527 333h1v1h-1zM550 333h1v1h-1zM564 333h1v1h-1zM585 333h1v1h-1zM599 333h5v1h-5zM97 334h1v1h-1zM128 334h1v1h-1zM137 334h1v1h-1zM140 334h1v1h-1zM372 334h1v1h-1zM386 334h1v1h-1zM397 334h1v1h-1zM431 334h1v1h-1zM435 334h2v1h-2zM450 334h2v1h-2zM522 334h1v1h-1zM527 334h1v1h-1zM551 334h1v1h-1zM559 334h1v1h-1zM564 334h1v1h-1zM586 334h1v1h-1zM598 334h1v1h-1zM603 334h1v1h-1zM91 335h7v1h-7zM147 335h1v1h-1zM373 335h1v1h-1zM385 335h1v1h-1zM397 335h1v1h-1zM411 335h1v1h-1zM432 335h1v1h-1zM436 335h1v1h-1zM449 335h2v1h-2zM523 335h1v1h-1zM551 335h2v1h-2zM558 335h1v1h-1zM565 335h1v1h-1zM581 335h1v1h-1zM587 335h1v1h-1zM590 335h2v1h-2zM604 335h1v1h-1zM129 336h1v1h-1zM137 336h1v1h-1zM141 336h2v1h-2zM145 336h2v1h-2zM374 336h1v1h-1zM377 336h2v1h-2zM384 336h1v1h-1zM398 336h1v1h-1zM410 336h1v1h-1zM432 336h1v1h-1zM434 336h1v1h-1zM437 336h1v1h-1zM448 336h2v1h-2zM524 336h1v1h-1zM526 336h2v1h-2zM552 336h2v1h-2zM577 336h1v1h-1zM587 336h1v1h-1zM590 336h2v1h-2zM598 336h1v1h-1zM605 336h1v1h-1zM129 337h1v1h-1zM136 337h1v1h-1zM142 337h4v1h-4zM374 337h8v1h-8zM383 337h1v1h-1zM398 337h2v1h-2zM410 337h1v1h-1zM433 337h1v1h-1zM437 337h2v1h-2zM445 337h4v1h-4zM525 337h2v1h-2zM553 337h1v1h-1zM556 337h3v1h-3zM565 337h1v1h-1zM577 337h1v1h-1zM587 337h1v1h-1zM589 337h1v1h-1zM591 337h2v1h-2zM605 337h1v1h-1zM130 338h1v1h-1zM135 338h2v1h-2zM375 338h2v1h-2zM382 338h2v1h-2zM399 338h1v1h-1zM409 338h1v1h-1zM433 338h2v1h-2zM439 338h1v1h-1zM443 338h2v1h-2zM525 338h1v1h-1zM553 338h3v1h-3zM565 338h1v1h-1zM578 338h1v1h-1zM588 338h2v1h-2zM592 338h4v1h-4zM597 338h1v1h-1zM606 338h1v1h-1zM130 339h2v1h-2zM134 339h2v1h-2zM400 339h7v1h-7zM409 339h1v1h-1zM433 339h1v1h-1zM439 339h5v1h-5zM566 339h1v1h-1zM576 339h1v1h-1zM579 339h1v1h-1zM595 339h1v1h-1zM607 339h1v1h-1zM610 339h4v1h-4zM131 340h4v1h-4zM406 340h4v1h-4zM566 340h1v1h-1zM579 340h3v1h-3zM596 340h1v1h-1zM608 340h3v1h-3zM613 340h2v1h-2zM567 341h1v1h-1zM571 341h1v1h-1zM576 341h1v1h-1zM580 341h1v1h-1zM597 341h1v1h-1zM609 341h1v1h-1zM614 341h2v1h-2zM567 342h4v1h-4zM572 342h2v1h-2zM615 342h1v1h-1zM573 343h3v1h-3zM616 343h1v1h-1zM575 344h1v1h-1zM617 344h1v1h-1zM617 345h1v1h-1zM618 346h2v1h-2zM621 346h3v1h-3zM620 347h2v1h-2zM623 347h1v1h-1z"/>
</g>
<g class="t">
<text x="157.46" y="20" font-size="14.5" textLength="32.07" lengthAdjust="spacingAndGlyphs">GOES</text>
<text x="195.44" y="20" font-size="14.5" textLength="69.44" lengthAdjust="spacingAndGlyphs">0.1—0.8nm</text>
<text x="270.03" y="20" font-size="14.5" textLength="37.31" lengthAdjust="spacingAndGlyphs">(red),</text>
<text x="311.02" y="20" font-size="14.5" textLength="30.06" lengthAdjust="spacingAndGlyphs">LYRA</text>
<text x="347.0" y="20" font-size="14.5" textLength="11.38" lengthAdjust="spacingAndGlyphs">Al</text>
<text x="364.13" y="20" font-size="14.5" textLength="35.71" lengthAdjust="spacingAndGlyphs">(blue)</text>
<text x="406.49" y="20" font-size="14.5" textLength="9.78" lengthAdjust="spacingAndGlyphs">&amp;</text>
<text x="423.53" y="20" font-size="14.5" textLength="12.73" lengthAdjust="spacingAndGlyphs">Zr</text>
<text x="442.58" y="20" font-size="14.5" textLength="38.81" lengthAdjust="spacingAndGlyphs">(grey)</text>
<text x="486.17" y="20" font-size="14.5" textLength="32.89" lengthAdjust="spacingAndGlyphs">proxy</text>
<text x="265.72" y="470" font-size="11.5" textLength="23.79" lengthAdjust="spacingAndGlyphs">Time</text>
<path d="M294.5 472.5L300.5 461.5" stroke="#000" stroke-width="1.1" fill="none"/>
<text x="306.25" y="470" font-size="11.5" textLength="6.0" lengthAdjust="spacingAndGlyphs">h</text>
<text x="317.26" y="470" font-size="11.5" textLength="22.09" lengthAdjust="spacingAndGlyphs">UTC,</text>
<text x="344.2" y="470" font-size="11.5" textLength="11.32" lengthAdjust="spacingAndGlyphs">17</text>
<text x="360.69" y="470" font-size="11.5" textLength="18.35" lengthAdjust="spacingAndGlyphs">Nov</text>
<text x="384.4" y="470" font-size="11.5" textLength="25.58" lengthAdjust="spacingAndGlyphs">2013</text>
<text x="488.15" y="495" font-size="11.5" textLength="55.79" lengthAdjust="spacingAndGlyphs">ROB/SIDC,</text>
<text x="548.59" y="495" font-size="11.5" textLength="47.92" lengthAdjust="spacingAndGlyphs">Brussels,</text>
<text x="601.1" y="495" font-size="11.5" textLength="41.65" lengthAdjust="spacingAndGlyphs">Belgium</text>
<g transform="translate(26,289) rotate(-90)" stroke="#000" stroke-width="0.3"><text x="-0.36" y="0" font-size="8" textLength="20.53" lengthAdjust="spacingAndGlyphs">GOES</text><text x="24.12" y="0" font-size="8" textLength="39.81" lengthAdjust="spacingAndGlyphs">Irradiance</text><path d="M67.6 1.6L72.8 -6.8" stroke="#000" stroke-width="1" fill="none"/><text x="77.11" y="0" font-size="8" textLength="10.01" lengthAdjust="spacingAndGlyphs">(W</text><text x="90.26" y="0" font-size="8" textLength="8.56" lengthAdjust="spacingAndGlyphs">m</text><text x="98.27" y="-4.2" font-size="5.5" textLength="6.82" lengthAdjust="spacingAndGlyphs">−2</text><text x="106.42" y="0.6" font-size="8" textLength="2.15" lengthAdjust="spacingAndGlyphs">)</text></g>
</g>
</svg>
</body></html>
